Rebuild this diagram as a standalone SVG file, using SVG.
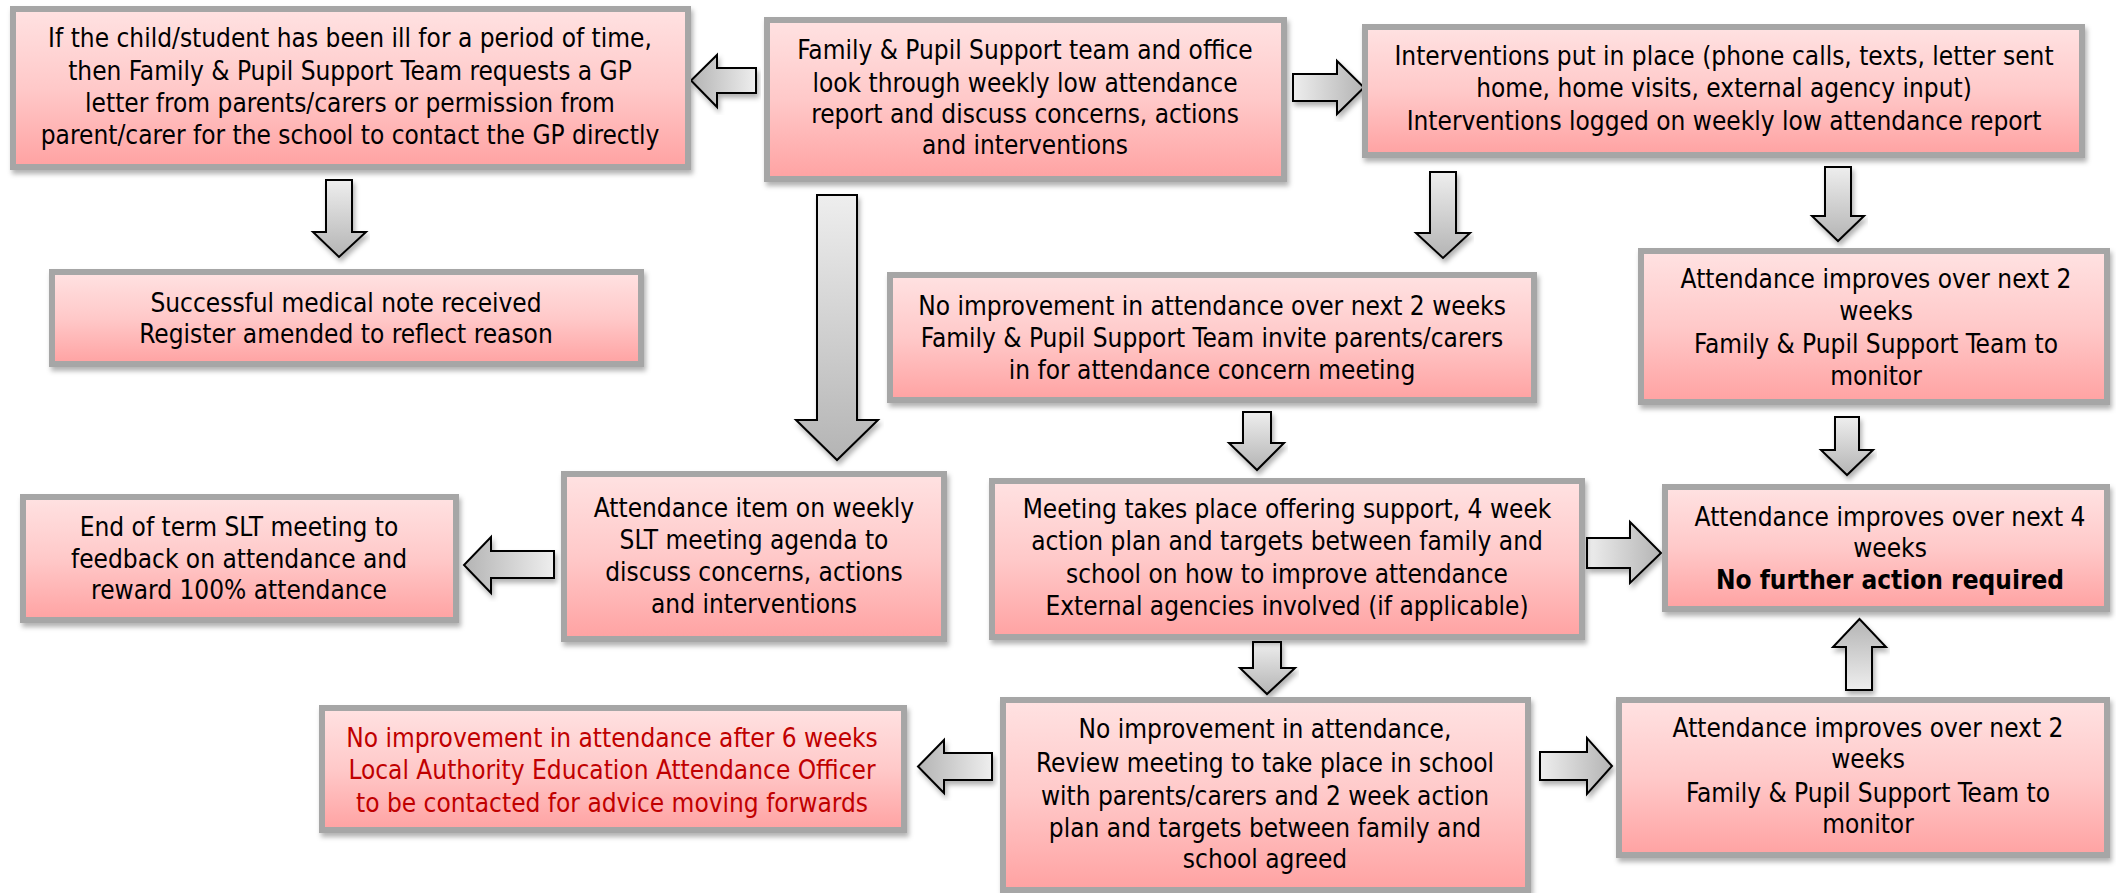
<svg xmlns="http://www.w3.org/2000/svg" width="2116" height="893" viewBox="0 0 2116 893">
<defs>
<linearGradient id="boxg" x1="0" y1="0" x2="0" y2="1">
<stop offset="0" stop-color="#ffe2e2"/>
<stop offset="0.5" stop-color="#ffc9c9"/>
<stop offset="1" stop-color="#ffa2a2"/>
</linearGradient>
<linearGradient id="agDown" x1="0" y1="0" x2="0" y2="1">
<stop offset="0" stop-color="#eeeeee"/>
<stop offset="1" stop-color="#b4b4b4"/>
</linearGradient>
<linearGradient id="agUp" x1="0" y1="1" x2="0" y2="0">
<stop offset="0" stop-color="#eeeeee"/>
<stop offset="1" stop-color="#b4b4b4"/>
</linearGradient>
<linearGradient id="agRight" x1="0" y1="0" x2="1" y2="0">
<stop offset="0" stop-color="#eeeeee"/>
<stop offset="1" stop-color="#b4b4b4"/>
</linearGradient>
<linearGradient id="agLeft" x1="1" y1="0" x2="0" y2="0">
<stop offset="0" stop-color="#eeeeee"/>
<stop offset="1" stop-color="#b4b4b4"/>
</linearGradient>
<filter id="sh" x="-5%" y="-5%" width="112%" height="120%">
<feDropShadow dx="2" dy="4" stdDeviation="2.5" flood-color="#000" flood-opacity="0.3"/>
</filter>
</defs>
<style>
.box{fill:url(#boxg);stroke:#a6a6a6;stroke-width:6;filter:url(#sh)}
.t{font-family:"DejaVu Sans Condensed","DejaVu Sans",sans-serif;font-stretch:condensed;font-size:26px;fill:#000;text-anchor:middle}
.red{fill:#c00000}
.b{font-weight:bold}
.ar{stroke:#000;stroke-width:2;stroke-linejoin:miter;filter:url(#sh)}
.d{fill:url(#agDown)}
.u{fill:url(#agUp)}
.r{fill:url(#agRight)}
.l{fill:url(#agLeft)}
</style>
<rect width="2116" height="893" fill="#ffffff"/>

<g id="connectors">
<path class="ar l" d="M756,68 V93 H717 V107 L691,80.5 L717,55 V68 Z"/>
<path class="ar d" d="M326,180 H352 V232 H366 L339,257 L313,232 H326 Z"/>
<path class="ar r" d="M1293,74 H1337 V61 L1364,87.5 L1337,114 V101 H1293 Z"/>
<path class="ar d" d="M817,195 H857 V420 H878 L837,460 L796,420 H817 Z"/>
<path class="ar d" d="M1430,172 H1456 V233 H1470 L1443,258 L1416,233 H1430 Z"/>
<path class="ar d" d="M1825,167 H1851 V216 H1864 L1838,241 L1812,216 H1825 Z"/>
<path class="ar d" d="M1243,412 H1271 V443 H1284 L1257,470 L1229,443 H1243 Z"/>
<path class="ar d" d="M1835,417 H1859 V450 H1873 L1847,475 L1821,450 H1835 Z"/>
<path class="ar l" d="M554,551 V578 H491 V593 L464,565 L491,537 V551 Z"/>
<path class="ar r" d="M1587,538 H1630 V522 L1661,553 L1630,583 V568 H1587 Z"/>
<path class="ar d" d="M1253,642 H1281 V668 H1295 L1267,694 L1240,668 H1253 Z"/>
<path class="ar l" d="M992,753 V780 H944 V793 L918,766.5 L944,740 V753 Z"/>
<path class="ar r" d="M1540,752 H1587 V738 L1612,766 L1587,794 V780 H1540 Z"/>
<path class="ar u" d="M1846,690 V647 H1833 L1859.5,619 L1886,647 H1872 V690 Z"/>
</g>

<g id="nodeGP">
<rect class="box" x="13" y="9" width="675" height="158"/>
<text class="t" x="350" y="47">If the child/student has been ill for a period of time,</text>
<text class="t" x="350" y="80">then Family &amp; Pupil Support Team requests a GP</text>
<text class="t" x="350" y="112">letter from parents/carers or permission from</text>
<text class="t" x="350" y="144">parent/carer for the school to contact the GP directly</text>
</g>

<g id="nodeMedical">
<rect class="box" x="52" y="272" width="589" height="92"/>
<text class="t" x="346" y="312">Successful medical note received</text>
<text class="t" x="346" y="343">Register amended to reflect reason</text>
</g>

<g id="nodeFPS">
<rect class="box" x="767" y="20" width="517" height="159"/>
<text class="t" x="1025" y="59">Family &amp; Pupil Support team and office</text>
<text class="t" x="1025" y="92">look through weekly low attendance</text>
<text class="t" x="1025" y="123">report and discuss concerns, actions</text>
<text class="t" x="1025" y="154">and interventions</text>
</g>

<g id="nodeInterventions">
<rect class="box" x="1365" y="27" width="717" height="128"/>
<text class="t" x="1724" y="65">Interventions put in place (phone calls, texts, letter sent</text>
<text class="t" x="1724" y="97">home, home visits, external agency input)</text>
<text class="t" x="1724" y="130">Interventions logged on weekly low attendance report</text>
</g>

<g id="nodeNoImprove2">
<rect class="box" x="890" y="275" width="644" height="125"/>
<text class="t" x="1212" y="315">No improvement in attendance over next 2 weeks</text>
<text class="t" x="1212" y="347">Family &amp; Pupil Support Team invite parents/carers</text>
<text class="t" x="1212" y="379">in for attendance concern meeting</text>
</g>

<g id="nodeImprove2Top">
<rect class="box" x="1641" y="251" width="466" height="151"/>
<text class="t" x="1876" y="288">Attendance improves over next 2</text>
<text class="t" x="1876" y="320">weeks</text>
<text class="t" x="1876" y="353">Family &amp; Pupil Support Team to</text>
<text class="t" x="1876" y="385">monitor</text>
</g>

<g id="nodeSLTItem">
<rect class="box" x="564" y="474" width="380" height="165"/>
<text class="t" x="754" y="517">Attendance item on weekly</text>
<text class="t" x="754" y="549">SLT meeting agenda to</text>
<text class="t" x="754" y="581">discuss concerns, actions</text>
<text class="t" x="754" y="613">and interventions</text>
</g>

<g id="nodeEndTerm">
<rect class="box" x="23" y="497" width="433" height="123"/>
<text class="t" x="239" y="536">End of term SLT meeting to</text>
<text class="t" x="239" y="568">feedback on attendance and</text>
<text class="t" x="239" y="599">reward 100% attendance</text>
</g>

<g id="nodeMeeting">
<rect class="box" x="992" y="481" width="590" height="156"/>
<text class="t" x="1287" y="518">Meeting takes place offering support, 4 week</text>
<text class="t" x="1287" y="550">action plan and targets between family and</text>
<text class="t" x="1287" y="583">school on how to improve attendance</text>
<text class="t" x="1287" y="615">External agencies involved (if applicable)</text>
</g>

<g id="nodeImprove4">
<rect class="box" x="1665" y="487" width="442" height="122"/>
<text class="t" x="1890" y="526">Attendance improves over next 4</text>
<text class="t" x="1890" y="557">weeks</text>
<text class="t b" x="1890" y="589">No further action required</text>
</g>

<g id="nodeLA">
<rect class="box" x="322" y="708" width="582" height="122"/>
<text class="t red" x="612" y="747">No improvement in attendance after 6 weeks</text>
<text class="t red" x="612" y="779">Local Authority Education Attendance Officer</text>
<text class="t red" x="612" y="812">to be contacted for advice moving forwards</text>
</g>

<g id="nodeReview">
<rect class="box" x="1003" y="700" width="525" height="190"/>
<text class="t" x="1265" y="738">No improvement in attendance,</text>
<text class="t" x="1265" y="772">Review meeting to take place in school</text>
<text class="t" x="1265" y="805">with parents/carers and 2 week action</text>
<text class="t" x="1265" y="837">plan and targets between family and</text>
<text class="t" x="1265" y="868">school agreed</text>
</g>

<g id="nodeImprove2Bottom">
<rect class="box" x="1619" y="700" width="488" height="155"/>
<text class="t" x="1868" y="737">Attendance improves over next 2</text>
<text class="t" x="1868" y="768">weeks</text>
<text class="t" x="1868" y="802">Family &amp; Pupil Support Team to</text>
<text class="t" x="1868" y="833">monitor</text>
</g>
</svg>
